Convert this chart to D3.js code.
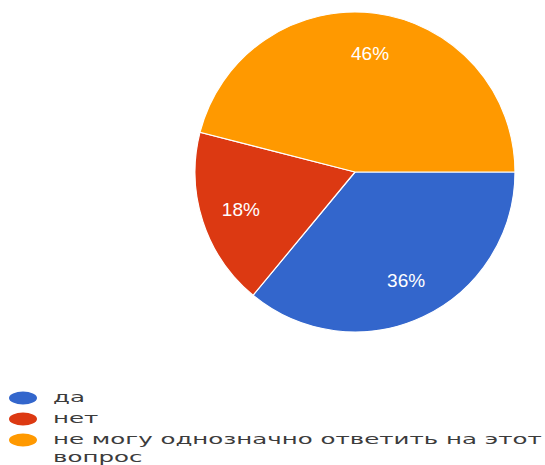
<!DOCTYPE html>
<html>
<head>
<meta charset="utf-8">
<script src="https://cdn.jsdelivr.net/npm/d3@7/dist/d3.min.js"></script>
<style>
  html, body { margin: 0; padding: 0; background: #fff; }
  svg { display: block; font-family: Arial, "Liberation Sans", sans-serif; }
</style>
</head>
<body>
<svg id="chart" width="545" height="465"></svg>
<script>
  // answers to the question
  var categories = ['да', 'нет', 'не могу однозначно ответить на этот вопрос'];
  var values = [36, 18, 46];
  var colors = ['#3366cc', '#dc3912', '#ff9900'];
  // legend text as it wraps in the picture
  var legendLines = [['да'], ['нет'], ['не могу однозначно ответить на этот', 'вопрос']];

  var svg = d3.select('#chart');

  var cx = 355, cy = 172, radius = 160;

  var data = categories.map(function(c, i) {
    return { name: c, value: values[i], color: colors[i] };
  });

  var pie = d3.pie()
    .sort(null)
    .value(function(d) { return d.value; })
    .startAngle(Math.PI / 2)
    .endAngle(Math.PI / 2 + 2 * Math.PI);

  var arc = d3.arc()
    .innerRadius(0)
    .outerRadius(radius);

  var labelArc = d3.arc()
    .innerRadius(120)
    .outerRadius(120);

  var total = d3.sum(values);

  var g = svg.append('g')
    .attr('transform', 'translate(' + cx + ',' + cy + ')');

  var slices = g.selectAll('.slice')
    .data(pie(data))
    .enter()
    .append('g')
    .attr('class', 'slice');

  slices.append('path')
    .attr('d', arc)
    .attr('fill', function(d) { return d.data.color; })
    .attr('stroke', '#fff')
    .attr('stroke-width', 1.2);

  slices.append('text')
    .attr('transform', function(d) {
      var c = labelArc.centroid(d);
      return 'translate(' + c[0] + ',' + c[1] + ')';
    })
    .attr('text-anchor', 'middle')
    .attr('dy', '0.36em')
    .attr('fill', '#fff')
    .attr('font-size', 19)
    .text(function(d) {
      return Math.round(d.data.value / total * 100) + '%';
    });

  // legend, stretched wide like the screenshot
  var rowY = [398, 419, 440];
  var legendLeft = 53, legendRight = 542;
  var legend = svg.append('g').attr('class', 'legend');

  var items = legend.selectAll('.item')
    .data(data)
    .enter()
    .append('g')
    .attr('class', 'item')
    .attr('transform', function(d, i) { return 'translate(0,' + rowY[i] + ')'; });

  items.append('ellipse')
    .attr('cx', 23)
    .attr('cy', 0)
    .attr('rx', 14)
    .attr('ry', 6.5)
    .attr('fill', function(d) { return d.color; });

  var texts = [];
  items.each(function(d, i) {
    var item = d3.select(this);
    legendLines[i].forEach(function(line, j) {
      var t = item.append('text')
        .attr('font-family', '"DejaVu Sans", Verdana, sans-serif')
        .attr('font-size', 14)
        .attr('fill', '#3c3c3c')
        .attr('data-y', 4 + j * 17.5)
        .text(line);
      texts.push(t);
    });
  });

  // one horizontal stretch for all lines, so the longest line fills the row
  var longest = d3.max(texts, function(t) { return t.node().getComputedTextLength(); });
  var sx = (legendRight - legendLeft) / longest;
  texts.forEach(function(t) {
    t.attr('transform', 'translate(' + legendLeft + ',' + t.attr('data-y') + ') scale(' + sx + ',1)');
  });
</script>
</body>
</html>
